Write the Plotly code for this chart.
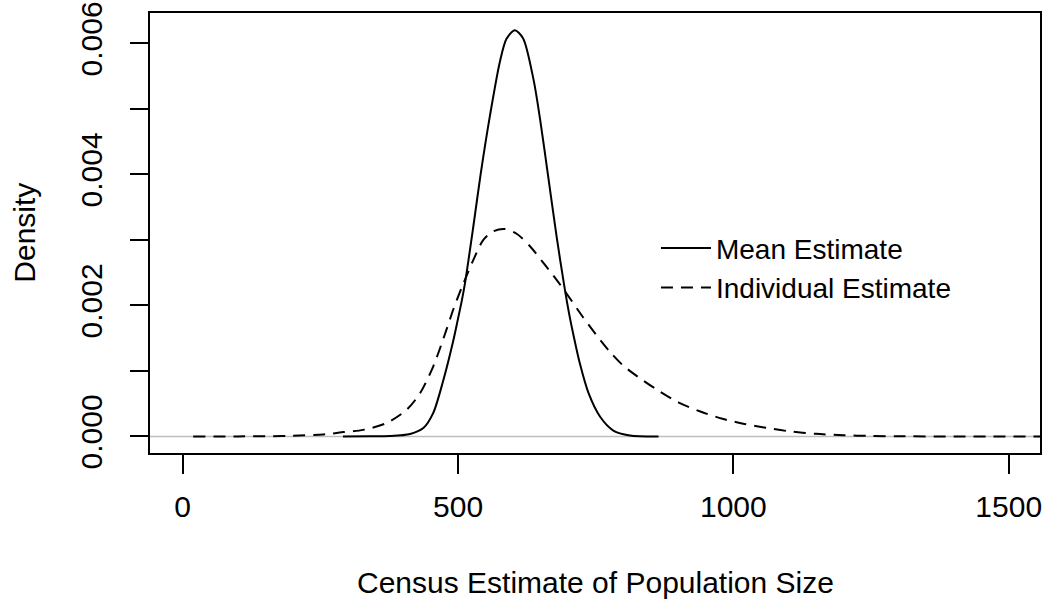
import plotly.graph_objects as go

# Mean estimate density
mean_x = [291, 340, 376, 413, 437, 455, 473, 491, 499, 507, 513, 528, 541, 558, 576, 588,
          603, 618, 637, 649, 662, 679, 694, 702, 709, 721, 737, 758, 782, 812, 864]
mean_y = [0.0, 0.000001, 0.000005, 0.000037, 0.000128, 0.00036, 0.00085, 0.00145, 0.00176,
          0.00208, 0.00236, 0.00322, 0.004, 0.0049, 0.00572, 0.00607, 0.0062, 0.00608,
          0.00545, 0.00484, 0.00407, 0.00305, 0.00224, 0.00186, 0.00157, 0.00112, 0.00066,
          0.0003, 0.00009, 0.000015, 0.0]

# Individual estimate density
ind_x = [19, 100, 164, 195, 255, 273, 292, 328, 370, 407, 431, 455, 479, 491, 498, 510, 528,
         546, 564, 585, 607, 631, 655, 679, 703, 727, 751, 775, 800, 830, 860, 900, 940,
         980, 1020, 1060, 1100, 1150, 1200, 1250, 1300, 1400, 1557]
ind_y = [0.0, 0.0000005, 0.000003, 0.00001, 0.00003, 0.000045, 0.000067, 0.0001, 0.000204,
         0.00041, 0.00066, 0.00107, 0.00163, 0.00193, 0.00209, 0.00234, 0.0027, 0.003, 0.00313,
         0.003166, 0.00309, 0.0029, 0.00265, 0.00239, 0.00211, 0.00182, 0.00155, 0.0013,
         0.00108, 0.00089, 0.00072, 0.00052, 0.00038, 0.00027, 0.00019, 0.00013, 0.00008,
         0.00004, 0.000018, 0.000007, 0.000002, 0.0, 0.0]

x_ticks = [0, 500, 1000, 1500]
y_ticks = [0.0, 0.001, 0.002, 0.003, 0.004, 0.005, 0.006]
y_tick_text = ["0.000", "", "0.002", "", "0.004", "", "0.006"]

FONT = "Liberation Sans, Arial, Helvetica, sans-serif"

fig = go.Figure()
fig.add_trace(go.Scatter(x=mean_x, y=mean_y, mode="lines", name="Mean Estimate",
                         line=dict(color="black", width=2, shape="spline", smoothing=0.8)))
fig.add_trace(go.Scatter(x=ind_x, y=ind_y, mode="lines", name="Individual Estimate",
                         line=dict(color="black", width=2, dash="12px,8px", shape="spline", smoothing=0.8)))

fig.add_shape(type="line", xref="paper", yref="y", x0=0, x1=1, y0=0, y1=0,
              line=dict(color="#bebebe", width=1.5), layer="below")

fig.update_layout(
    width=1044, height=599,
    margin=dict(l=150, r=4, t=13, b=146, autoexpand=False),
    paper_bgcolor="white", plot_bgcolor="white",
    font=dict(family=FONT, size=30, color="black"),
    showlegend=True,
    legend=dict(x=0.5685, y=0.522, xanchor="left", yanchor="top",
                bgcolor="rgba(0,0,0,0)", borderwidth=0,
                font=dict(size=28), itemwidth=50, tracegroupgap=0),
    xaxis=dict(range=[-59.4, 1556.8], tickvals=x_ticks, ticktext=[str(v) for v in x_ticks],
               showgrid=False, zeroline=False, showline=True, linecolor="black", linewidth=2,
               mirror=True, ticks="outside", ticklen=19, tickwidth=1.5, tickcolor="black",
               tickfont=dict(size=30), ticklabelstandoff=7, automargin=False),
    yaxis=dict(range=[-0.000253, 0.006464], tickvals=y_ticks, ticktext=y_tick_text,
               showgrid=False, zeroline=False, showline=True, linecolor="black", linewidth=2,
               mirror=True, ticks="outside", ticklen=18, tickwidth=1.5, tickcolor="black",
               tickangle=-90, tickfont=dict(size=30), ticklabelstandoff=16, automargin=False),
    annotations=[
        dict(text="Census Estimate of Population Size", xref="paper", yref="paper",
             x=0.5, y=(453.3 - 583) / 440, xanchor="center", yanchor="middle",
             showarrow=False, font=dict(size=30)),
        dict(text="Density", xref="paper", yref="paper", textangle=-90,
             x=(25 - 150) / 890, y=(453.3 - 233) / 440, xanchor="center", yanchor="middle",
             showarrow=False, font=dict(size=30)),
    ],
)

fig.write_html("out.html", config={"displayModeBar": False},
               post_script="document.body.style.margin='0';document.body.style.overflow='hidden';")
